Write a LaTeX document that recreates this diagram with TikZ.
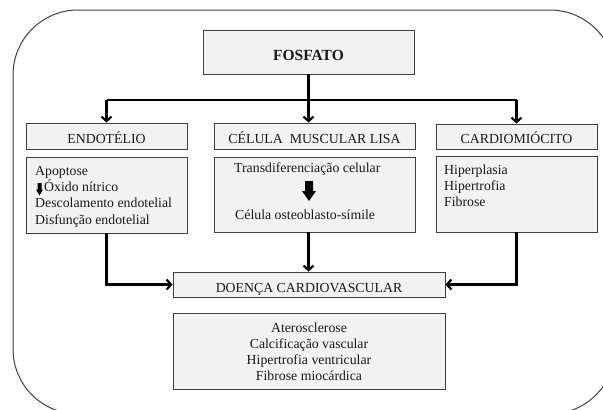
\documentclass[tikz,border=0pt]{standalone}
\usepackage{fontspec}
\setmainfont{Liberation Serif}
\usetikzlibrary{arrows.meta}
\begin{document}
\begin{tikzpicture}[x=1pt,y=-1pt,
  box/.style={draw=black!75, line width=0.9pt, fill=black!5, inner sep=0pt},
  txt/.style={inner sep=0pt, text=black!90, font=\fontsize{13.8}{16.3}\selectfont},
  conn/.style={line width=2.2pt, black},
  arr/.style={conn, -{Straight Barb[length=4.5pt,width=10pt]}},
  blockarrow/.style={fill=black}
]
\useasboundingbox (0,0) rectangle (603,410);
\draw[black!75, line width=1pt, rounded corners=65pt] (13,10) rectangle (615,414);

% boxes
\node[box, minimum width=211pt, minimum height=44pt] (fos) at (308.5,52) {};
\node[box, minimum width=161pt, minimum height=26pt] (endo) at (106.5,136) {};
\node[box, minimum width=161pt, minimum height=76pt] (endoc) at (106.5,195) {};
\node[box, minimum width=201pt, minimum height=26pt] (cel) at (314.5,136) {};
\node[box, minimum width=201pt, minimum height=75pt] (celc) at (314.5,194.5) {};
\node[box, minimum width=161pt, minimum height=25pt] (card) at (516.5,136.5) {};
\node[box, minimum width=161pt, minimum height=76pt] (cardc) at (516.5,194) {};
\node[box, minimum width=272pt, minimum height=25pt] (dcv) at (309,284.5) {};
\node[box, minimum width=272pt, minimum height=76pt] (dcvc) at (309,351) {};

% texts
\node[txt, anchor=base, font=\fontsize{15.5}{18}\selectfont\bfseries] (tfos) at (308.5,60) {FOSFATO};
\node[txt, anchor=base] (tendo) at (106.5,143) {ENDOTÉLIO};
\node[txt, anchor=base] (tcel) at (314.5,143) {CÉLULA\ \ MUSCULAR LISA};
\node[txt, anchor=base] (tcard) at (516.5,143) {CARDIOMIÓCITO};
\node[txt, anchor=base] (tdcv) at (309,292) {DOENÇA CARDIOVASCULAR};

\node[txt, anchor=base west] (e1) at (35,175) {Apoptose};
\node[txt, anchor=base west] (e2) at (44,191.3) {Óxido nítrico};
\node[txt, anchor=base west] (e3) at (35,207.6) {Descolamento endotelial};
\node[txt, anchor=base west] (e4) at (35,224) {Disfunção endotelial};
\fill[blockarrow] (37.5,183) -- (41.5,183) -- (41.5,189.5) -- (43,189.5) -- (39.5,195.5) -- (36,189.5) -- (37.5,189.5) -- cycle;

\node[txt, anchor=base west] (c1) at (234,172) {Transdiferenciação celular};
\node[txt, anchor=base west] (c2) at (235,219) {Célula osteoblasto-símile};
\fill[blockarrow] (305,181) -- (313,181) -- (313,191) -- (316,191) -- (309,201) -- (302,191) -- (305,191) -- cycle;

\node[txt, anchor=base west] (k1) at (444,174) {Hiperplasia};
\node[txt, anchor=base west] (k2) at (444,190) {Hipertrofia};
\node[txt, anchor=base west] (k3) at (444,206) {Fibrose};

\node[txt, anchor=base] (d1) at (309,332) {Aterosclerose};
\node[txt, anchor=base] (d2) at (309,348) {Calcificação vascular};
\node[txt, anchor=base] (d3) at (309,364) {Hipertrofia ventricular};
\node[txt, anchor=base] (d4) at (309,380) {Fibrose miocárdica};

% connectors
\coordinate (jl) at (endo.north |- 0,100);
\coordinate (jr) at (card.north |- 0,100);
\draw[conn] (jl) -- (jr);
\draw[arr] (jl) -- (endo.north);
\draw[arr] (jr) -- (card.north);
\draw[arr] (fos.south) -- (fos.south |- cel.north);
\draw[arr] (endoc.south) |- (dcv.west);
\draw[arr] (fos.south |- celc.south) -- (fos.south |- dcv.north);
\draw[arr] (cardc.south) |- (dcv.east);
\end{tikzpicture}
\end{document}
